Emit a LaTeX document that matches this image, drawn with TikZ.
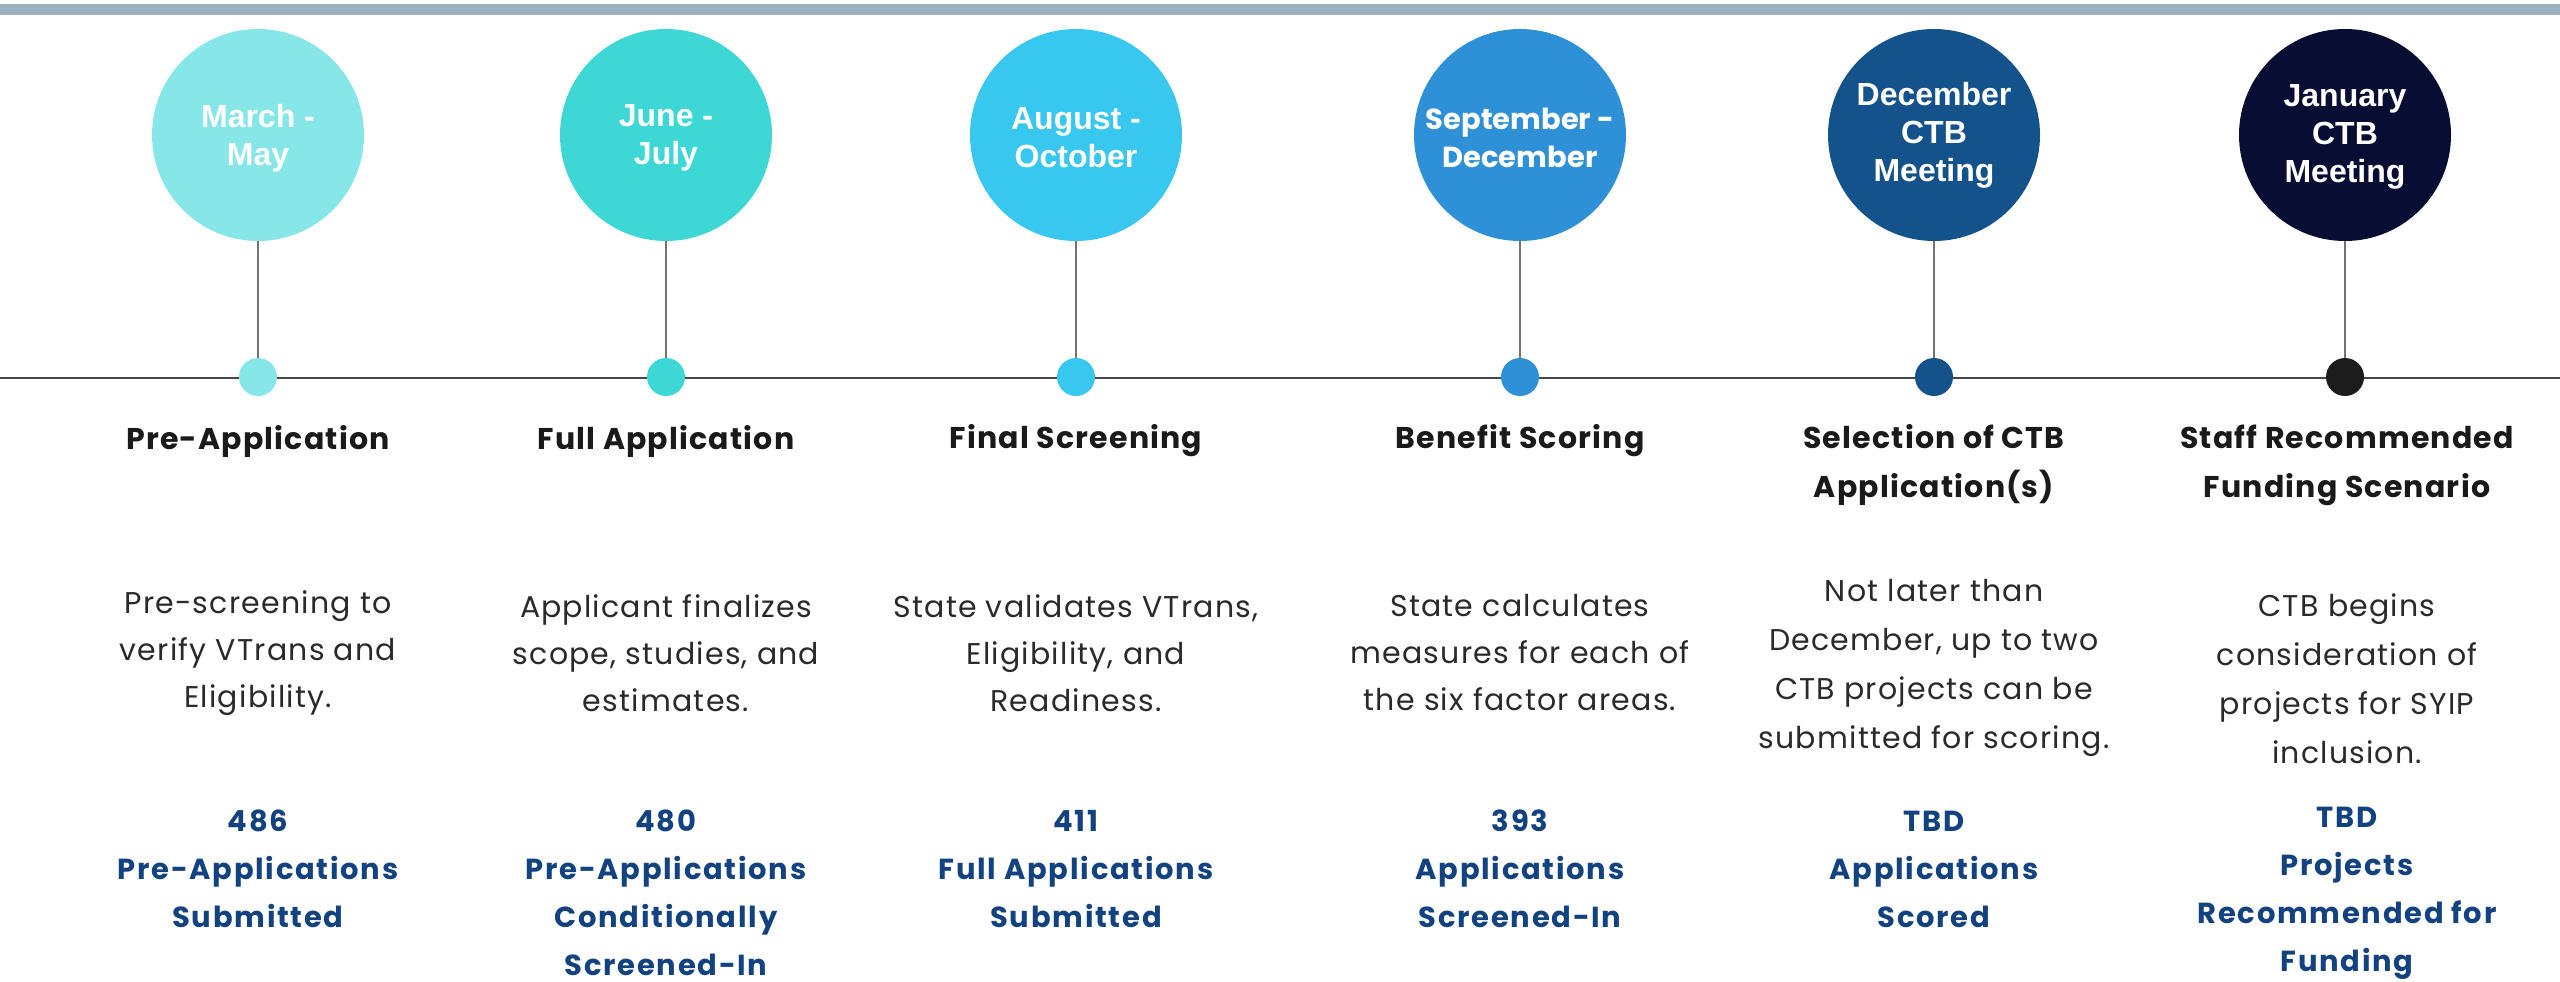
\documentclass[tikz,border=0pt]{standalone}
\usepackage{fontspec}
\setmainfont{Poppins}
\newfontfamily\popfont{Poppins}
\newfontfamily\descfont{Poppins}[LetterSpace=4]
\newfontfamily\circfont{Liberation Sans}
\newfontfamily\headfont{Poppins}[LetterSpace=4]
\newfontfamily\numfont{Poppins}[LetterSpace=6]
\definecolor{barc}{HTML}{9CB0C0}
\definecolor{cA}{HTML}{87E7E8}
\definecolor{cB}{HTML}{3DD8D5}
\definecolor{cC}{HTML}{38C8EF}
\definecolor{cD}{HTML}{2E90D6}
\definecolor{cE}{HTML}{14528C}
\definecolor{cF}{HTML}{070D33}
\definecolor{dotF}{HTML}{1C1C1C}
\definecolor{navytxt}{HTML}{12427F}
\definecolor{desctxt}{HTML}{2A2A2A}
\definecolor{headtxt}{HTML}{1A1A1A}
\tikzset{
  bigcirc/.style={circle, minimum size=212pt, inner sep=0pt},
  circtext/.style={text=white, align=center, inner sep=0pt,
    font={\circfont\bfseries\fontsize{32}{38}\selectfont}},
  smalldot/.style={circle, minimum size=38pt, inner sep=0pt},
  stem/.style={draw=black!55, line width=2pt},
  axisline/.style={draw=black!72, line width=2.5pt},
  headtext/.style={align=center, text=headtxt, inner sep=0pt,
    font={\headfont\bfseries\fontsize{30}{49}\selectfont}},
  desctext/.style={align=center, text=desctxt, inner sep=0pt,
    font={\descfont\fontsize{30}{47}\selectfont}},
  desclong/.style={desctext, font={\descfont\fontsize{30}{49}\selectfont}},
  numtext/.style={align=center, text=navytxt, inner sep=0pt,
    font={\numfont\bfseries\fontsize{29}{48}\selectfont}}
}
\begin{document}
\begin{tikzpicture}[x=1pt, y=-1pt]
\useasboundingbox (0,0) rectangle (2560,982);
\fill[barc] (0,4) rectangle (2560,15);
\coordinate (L) at (0,378);
\coordinate (R) at (2560,378);
\draw[axisline] (L) -- (R);
% circles
\node[bigcirc, fill=cA] (c1) at (258,135) {};
\node[bigcirc, fill=cB] (c2) at (666,135) {};
\node[bigcirc, fill=cC] (c3) at (1076,135) {};
\node[bigcirc, fill=cD] (c4) at (1520,135) {};
\node[bigcirc, fill=cE] (c5) at (1934,135) {};
\node[bigcirc, fill=cF] (c6) at (2345,135) {};
\node[circtext] (m1) at (258,138) {March -\\May};
\node[circtext] (m2) at (666,138) {June -\\July};
\node[circtext] (m3) at (1076,138) {August -\\October};
\node[circtext, font={\popfont\bfseries\fontsize{29}{38}\selectfont}] (m4) at (1520,138) {September -\\December};
\node[circtext] (m5) at (1934,135) {December\\CTB\\Meeting};
\node[circtext] (m6) at (2345,137) {January\\CTB\\Meeting};
% dots
\node[smalldot, fill=cA] (d1) at (258,377) {};
\node[smalldot, fill=cB] (d2) at (666,377) {};
\node[smalldot, fill=cC] (d3) at (1076,377) {};
\node[smalldot, fill=cD] (d4) at (1520,377) {};
\node[smalldot, fill=cE] (d5) at (1934,377) {};
\node[smalldot, fill=dotF] (d6) at (2345,377) {};
\foreach \i in {1,...,6} { \draw[stem] (c\i.south) -- (d\i.north); }
% headings
\node[headtext] (h1) at (258,441) {Pre-Application};
\node[headtext] (h2) at (666,441) {Full Application};
\node[headtext] (h3) at (1076,441) {Final Screening};
\node[headtext] (h4) at (1520,441) {Benefit Scoring};
\node[headtext] (h5) at (1934,465) {Selection of CTB\\Application(s)};
\node[headtext] (h6) at (2347,465) {Staff Recommended\\Funding Scenario};
% descriptions
\node[desctext] (t1) at (258,653) {Pre-screening to\\verify VTrans and\\Eligibility.};
\node[desctext] (t2) at (666,653) {Applicant finalizes\\scope, studies, and\\estimates.};
\node[desctext] (t3) at (1076,653) {State validates VTrans,\\Eligibility, and\\Readiness.};
\node[desctext] (t4) at (1520,653) {State calculates\\measures for each of\\the six factor areas.};
\node[desclong] (t5) at (1934,668) {Not later than\\December, up to two\\CTB projects can be\\submitted for scoring.};
\node[desclong] (t6) at (2347,679) {CTB begins\\consideration of\\projects for SYIP\\inclusion.};
% numbers
\node[numtext] (n1) at (258,869) {486\\Pre-Applications\\Submitted};
\node[numtext] (n2) at (666,893) {480\\Pre-Applications\\Conditionally\\Screened-In};
\node[numtext] (n3) at (1076,869) {411\\Full Applications\\Submitted};
\node[numtext] (n4) at (1520,869) {393\\Applications\\Screened-In};
\node[numtext] (n5) at (1934,869) {TBD\\Applications\\Scored};
\node[numtext] (n6) at (2347,893) {TBD\\Projects\\Recommended for\\Funding};
\end{tikzpicture}
\end{document}
